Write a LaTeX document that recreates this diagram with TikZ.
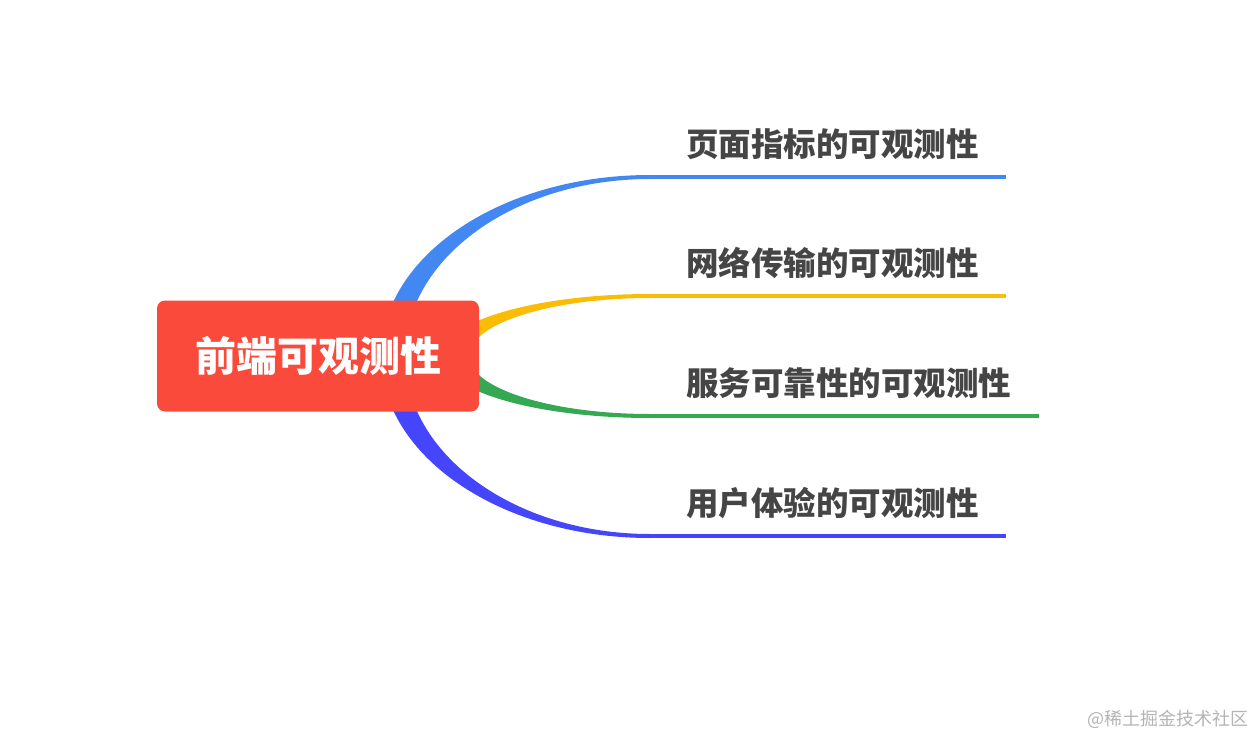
\documentclass[tikz,border=0pt]{standalone}
\usepackage{fontspec}
\newfontfamily\cjk{Noto Sans CJK SC}
\usetikzlibrary{calc,backgrounds}
\definecolor{rootred}{HTML}{FA4A3C}
\definecolor{bblue}{HTML}{4387F3}
\definecolor{byellow}{HTML}{FBBC05}
\definecolor{bgreen}{HTML}{34A853}
\definecolor{bviolet}{HTML}{4545FB}
\definecolor{labelgray}{HTML}{454545}
\definecolor{markgray}{HTML}{B4B4B4}
\begin{document}
\begin{tikzpicture}[x=1pt,y=-1pt,
  root node/.style={rounded corners=8pt,fill=rootred,text=white,inner sep=0pt,
    minimum width=322pt,minimum height=111pt,font=\cjk\bfseries\fontsize{41}{41}\selectfont},
  topic node/.style={anchor=south west,inner xsep=0pt,inner ysep=17pt,text=labelgray,
    execute at begin node=\hspace*{36pt},execute at end node=\hspace*{27.5pt},
    font=\cjk\bfseries\fontsize{32.5}{32.5}\selectfont},
  underline/.style={line width=4pt}]
  \useasboundingbox (0,0) rectangle (1254,736);

  \node[root node] (root) at (318,356) {前端可观测性};

  \node[topic node] (t1) at (650,177) {页面指标的可观测性};
  \node[topic node] (t2) at (650,296) {网络传输的可观测性};
  \node[topic node] (t3) at (650,416) {服务可靠性的可观测性};
  \node[topic node] (t4) at (650,536) {用户体验的可观测性};

  \draw[underline,bblue] (t1.south west) -- (t1.south east);
  \draw[underline,byellow] (t2.south west) -- (t2.south east);
  \draw[underline,bgreen] (t3.south west) -- (t3.south east);
  \draw[underline,bviolet] (t4.south west) -- (t4.south east);

  % tapered branches behind the root
  \begin{scope}[on background layer]
  \fill[bblue] ($(root.center)+(63,0)$) .. controls +(0,-99.9) and +(-148.5,0) .. ($(t1.south west)+(0,-2)$)
    -- ($(t1.south west)+(0,2)$) .. controls +(-135.2,0) and +(0,-97.7) .. ($(root.center)+(87,0)$) -- cycle;
  \fill[byellow] ($(root.center)+(123,0)$) .. controls +(0,-34.2) and +(-115.4,0) .. ($(t2.south west)+(0,-2)$)
    -- ($(t2.south west)+(0,2)$) .. controls +(-99.9,0) and +(0,-32) .. ($(root.center)+(151,0)$) -- cycle;
  \fill[bgreen] ($(root.center)+(123,0)$) .. controls +(0,34.2) and +(-115.4,0) .. ($(t3.south west)+(0,2)$)
    -- ($(t3.south west)+(0,-2)$) .. controls +(-99.9,0) and +(0,32) .. ($(root.center)+(151,0)$) -- cycle;
  \fill[bviolet] ($(root.center)+(63,0)$) .. controls +(0,100.5) and +(-148.5,0) .. ($(t4.south west)+(0,2)$)
    -- ($(t4.south west)+(0,-2)$) .. controls +(-135.2,0) and +(0,98.3) .. ($(root.center)+(87,0)$) -- cycle;
  \end{scope}

  \node[anchor=base east,text=markgray,inner sep=0pt,font=\cjk\fontsize{18}{18}\selectfont] (mark) at (1249,725) {@稀土掘金技术社区};
\end{tikzpicture}
\end{document}
